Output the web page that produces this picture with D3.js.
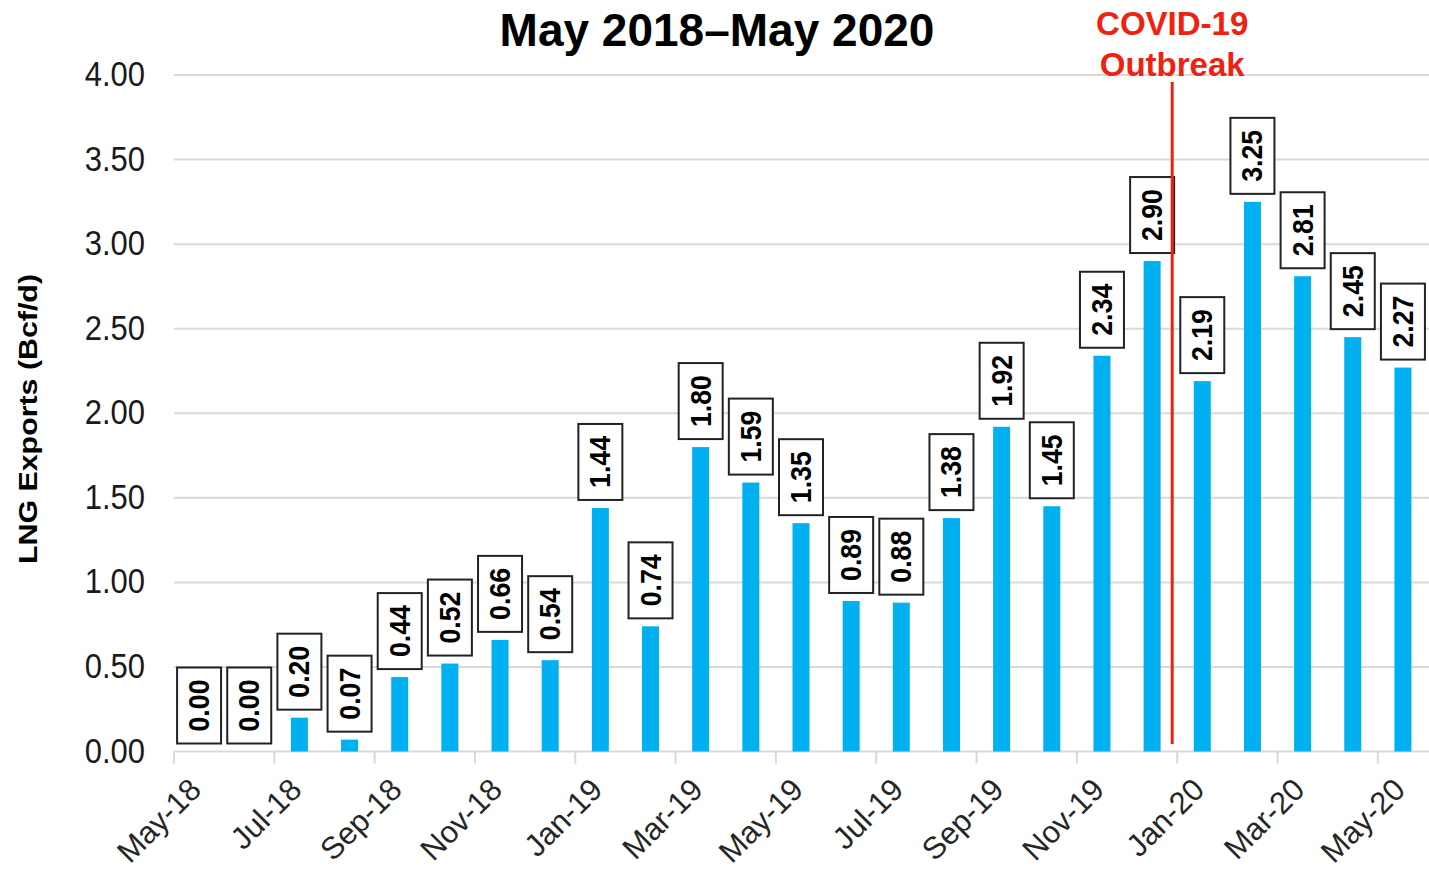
<!DOCTYPE html>
<html>
<head>
<meta charset="utf-8">
<script src="https://cdn.jsdelivr.net/npm/d3@7"></script>
<style>
  body { margin: 0; background: #fff; }
  text { font-family: "Liberation Sans", Arial, sans-serif; }
</style>
</head>
<body>
<svg id="chart" width="1429" height="874"></svg>
<script>
// monthly LNG exports, Bcf/d
var months = ["May-18", "Jun-18", "Jul-18", "Aug-18", "Sep-18", "Oct-18", "Nov-18", "Dec-18",
  "Jan-19", "Feb-19", "Mar-19", "Apr-19", "May-19", "Jun-19", "Jul-19", "Aug-19", "Sep-19",
  "Oct-19", "Nov-19", "Dec-19", "Jan-20", "Feb-20", "Mar-20", "Apr-20", "May-20"];
var lngExports = [0.00, 0.00, 0.20, 0.07, 0.44, 0.52, 0.66, 0.54,
  1.44, 0.74, 1.80, 1.59, 1.35, 0.89, 0.88, 1.38, 1.92,
  1.45, 2.34, 2.90, 2.19, 3.25, 2.81, 2.45, 2.27];
var tickMonths = ["May-18", "Jul-18", "Sep-18", "Nov-18", "Jan-19", "Mar-19", "May-19",
  "Jul-19", "Sep-19", "Nov-19", "Jan-20", "Mar-20", "May-20"];
var yTicks = [0, 0.5, 1, 1.5, 2, 2.5, 3, 3.5, 4];
var covidMonth = "Jan-20";

function drawchart() {
  var data = months.map(function(m, i) { return { month: m, value: lngExports[i] }; });

  var svg = d3.select("#chart");
  var plotLeft = 174, plotRight = 1428, plotTop = 75, plotBottom = 751.5;

  var x = d3.scaleBand().domain(months).range([plotLeft, plotRight]).padding(0);
  var y = d3.scaleLinear().domain([0, 4]).range([plotBottom, plotTop]);
  var barW = 17;

  // gridlines
  svg.append("g")
    .selectAll("line")
    .data(yTicks)
    .enter()
    .append("line")
    .attr("x1", plotLeft)
    .attr("x2", 1429)
    .attr("y1", function(d) { return y(d); })
    .attr("y2", function(d) { return y(d); })
    .attr("stroke", "#d9d9d9")
    .attr("stroke-width", 2);

  // y labels
  svg.append("g")
    .selectAll("text")
    .data(yTicks)
    .enter()
    .append("text")
    .attr("transform", function(d) { return "translate(145," + (y(d) + 11) + ") scale(1,1.12)"; })
    .attr("text-anchor", "end")
    .attr("font-size", 31)
    .attr("fill", "#1a1a1a")
    .text(function(d) { return d3.format(".2f")(d); });

  // x ticks
  var xt = svg.append("g")
    .selectAll("g")
    .data(tickMonths)
    .enter()
    .append("g")
    .attr("transform", function(d) { return "translate(" + x(d) + "," + plotBottom + ")"; });
  xt.append("line")
    .attr("y1", 0)
    .attr("y2", 12)
    .attr("stroke", "#d9d9d9")
    .attr("stroke-width", 2);
  xt.append("text")
    .attr("transform", "translate(29,40) rotate(-45)")
    .attr("text-anchor", "end")
    .attr("font-size", 31)
    .attr("fill", "#262626")
    .text(function(d) { return d; });

  // bars
  svg.append("g")
    .selectAll("rect")
    .data(data)
    .enter()
    .append("rect")
    .attr("x", function(d) { return x(d.month) + x.bandwidth() / 2 - barW / 2; })
    .attr("y", function(d) { return y(d.value); })
    .attr("width", barW)
    .attr("height", function(d) { return plotBottom - y(d.value); })
    .attr("fill", "#00b0f0");

  // value boxes
  var boxW = 44, boxH = 76, gap = 8;
  var lab = svg.append("g")
    .selectAll("g")
    .data(data)
    .enter()
    .append("g")
    .attr("transform", function(d) {
      return "translate(" + (x(d.month) + x.bandwidth() / 2) + "," + (y(d.value) - gap - boxH / 2) + ")";
    });
  lab.append("rect")
    .attr("x", -boxW / 2)
    .attr("y", -boxH / 2)
    .attr("width", boxW)
    .attr("height", boxH)
    .attr("fill", "#fff")
    .attr("stroke", "#222")
    .attr("stroke-width", 2);
  lab.append("text")
    .attr("transform", "rotate(-90) translate(0,10)")
    .attr("text-anchor", "middle")
    .attr("font-size", 29)
    .attr("font-weight", "bold")
    .attr("textLength", 52)
    .attr("lengthAdjust", "spacingAndGlyphs")
    .attr("fill", "#000")
    .text(function(d) { return d3.format(".2f")(d.value); });

  // covid marker
  var cx = x(covidMonth) - 5;
  svg.append("line")
    .attr("x1", cx)
    .attr("x2", cx)
    .attr("y1", 82)
    .attr("y2", 744)
    .attr("stroke", "#ee2211")
    .attr("stroke-width", 3);
  svg.append("text")
    .attr("x", cx)
    .attr("y", 35)
    .attr("text-anchor", "middle")
    .attr("font-size", 33)
    .attr("font-weight", "bold")
    .attr("fill", "#ee2211")
    .text("COVID-19");
  svg.append("text")
    .attr("x", cx)
    .attr("y", 76)
    .attr("text-anchor", "middle")
    .attr("font-size", 33)
    .attr("font-weight", "bold")
    .attr("fill", "#ee2211")
    .text("Outbreak");

  // title
  svg.append("text")
    .attr("x", 717)
    .attr("y", 46)
    .attr("text-anchor", "middle")
    .attr("font-size", 46)
    .attr("font-weight", "bold")
    .attr("fill", "#000")
    .text("May 2018\u2013May 2020");

  // y axis title
  svg.append("text")
    .attr("transform", "translate(37,419) rotate(-90)")
    .attr("text-anchor", "middle")
    .attr("font-size", 25)
    .attr("font-weight", "bold")
    .attr("textLength", 290)
    .attr("lengthAdjust", "spacingAndGlyphs")
    .attr("fill", "#000")
    .text("LNG Exports (Bcf/d)");
}

drawchart();
</script>
</body>
</html>
